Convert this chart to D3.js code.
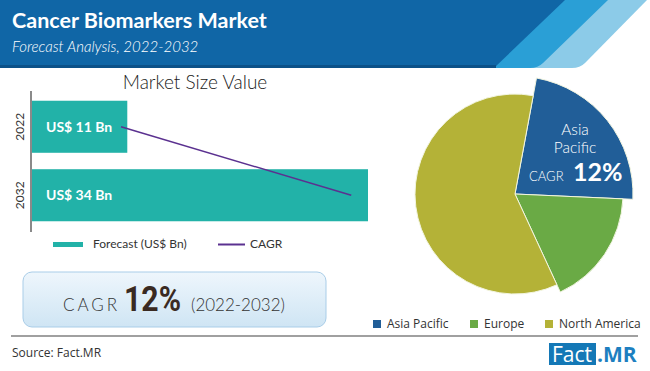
<!DOCTYPE html>
<html>
<head>
<meta charset="utf-8">
<script src="https://cdn.jsdelivr.net/npm/d3@7"></script>
<style>
  body { margin: 0; background: #fff; }
  svg { display: block; font-family: "Lato", "Open Sans", sans-serif; }
</style>
</head>
<body>
<div id="chart"></div>
<script>
// Data
const years = ['2022', '2032'];
const marketSize = [11, 34];
const barLabels = ['US$ 11 Bn', 'US$ 34 Bn'];
const cagrLine = [10.4, 32.4];
const regions = ['Asia Pacific', 'Europe', 'North America'];
const regionShare = [22.8, 17.4, 59.8];
const regionColors = ['#215e98', '#6aaa45', '#b4b237'];
const regionRadius = [118, 108, 100];

const W = 650, H = 371;
const svg = d3.select('#chart').append('svg')
    .attr('width', W)
    .attr('height', H);

// Header band with stripes
const header = svg.append('g');
header.append('path')
    .attr('d', 'M0,0 L647,0 L585,63 Q580,68 572,68 L0,68 Z')
    .attr('fill', '#8ccbe8');
header.append('path')
    .attr('d', 'M0,0 L608,0 L543,63 Q538,68 530,68 L0,68 Z')
    .attr('fill', '#2a9fd6');
header.append('path')
    .attr('d', 'M0,0 L565,0 L494,68 L0,68 Z')
    .attr('fill', '#1066a6');
header.append('rect')
    .attr('x', 0).attr('y', 65).attr('width', 496).attr('height', 3)
    .attr('fill', '#0c5188');

header.append('text')
    .attr('x', 12).attr('y', 28)
    .attr('fill', '#fff')
    .attr('font-size', 21.5)
    .attr('font-weight', 'bold')
    .text('Cancer Biomarkers Market');
header.append('text')
    .attr('x', 12).attr('y', 52)
    .attr('fill', '#fff')
    .attr('font-size', 15)
    .attr('font-style', 'italic')
    .attr('font-weight', 300)
    .text('Forecast Analysis, 2022-2032');

// Bar chart
const xScale = d3.scaleLinear()
    .domain([1.8, 34])
    .range([31, 368]);

const yScale = d3.scaleBand()
    .domain(years)
    .range([93, 229])
    .paddingInner(0.24)
    .paddingOuter(0.113);

svg.append('text')
    .attr('x', 195).attr('y', 89)
    .attr('text-anchor', 'middle')
    .attr('font-size', 19)
    .attr('font-weight', 300)
    .attr('fill', '#222')
    .text('Market Size Value');

svg.selectAll('.bar')
    .data(marketSize)
    .enter()
    .append('rect')
    .attr('class', 'bar')
    .attr('x', xScale(1.8))
    .attr('y', (d, i) => yScale(years[i]))
    .attr('width', d => xScale(d) - xScale(1.8))
    .attr('height', yScale.bandwidth())
    .attr('fill', '#22b2a8');

svg.selectAll('.bar-label')
    .data(barLabels)
    .enter()
    .append('text')
    .attr('class', 'bar-label')
    .attr('x', 46)
    .attr('y', (d, i) => yScale(years[i]) + yScale.bandwidth() / 2 + 5)
    .attr('fill', '#fff')
    .attr('font-size', 14)
    .attr('font-weight', 'bold')
    .text(d => d);

// Y axis
svg.append('line')
    .attr('x1', 31).attr('x2', 31)
    .attr('y1', 91).attr('y2', 232)
    .attr('stroke', '#8a8a8a')
    .attr('stroke-width', 2);

svg.selectAll('.year-label')
    .data(years)
    .enter()
    .append('text')
    .attr('class', 'year-label')
    .attr('transform', d => `translate(24,${yScale(d) + yScale.bandwidth() / 2}) rotate(-90)`)
    .attr('text-anchor', 'middle')
    .attr('font-size', 12)
    .attr('fill', '#333')
    .text(d => d);

// CAGR line
const line = d3.line()
    .x(d => xScale(d))
    .y((d, i) => yScale(years[i]) + yScale.bandwidth() / 2);
svg.append('path')
    .datum(cagrLine)
    .attr('d', line)
    .attr('fill', 'none')
    .attr('stroke', '#5b3190')
    .attr('stroke-width', 1.5);

// Bar legend
svg.append('rect')
    .attr('x', 53).attr('y', 242).attr('width', 30).attr('height', 5)
    .attr('fill', '#22b2a8');
svg.append('text')
    .attr('x', 93).attr('y', 248)
    .attr('font-size', 12).attr('fill', '#333')
    .text('Forecast (US$ Bn)');
svg.append('line')
    .attr('x1', 218).attr('x2', 245).attr('y1', 244.5).attr('y2', 244.5)
    .attr('stroke', '#5b3190').attr('stroke-width', 2);
svg.append('text')
    .attr('x', 250).attr('y', 248)
    .attr('font-size', 12).attr('fill', '#333')
    .text('CAGR');

// CAGR box
const defs = svg.append('defs');
const grad = defs.append('linearGradient')
    .attr('id', 'boxGrad')
    .attr('x1', 0).attr('y1', 0).attr('x2', 0).attr('y2', 1);
grad.append('stop').attr('offset', '0%').attr('stop-color', '#eef6fc');
grad.append('stop').attr('offset', '100%').attr('stop-color', '#cfe5f4');

svg.append('rect')
    .attr('x', 23).attr('y', 272).attr('width', 303).attr('height', 55)
    .attr('rx', 9)
    .attr('fill', 'url(#boxGrad)')
    .attr('stroke', '#a9cde8')
    .attr('stroke-width', 1);

svg.append('text')
    .attr('x', 63).attr('y', 311)
    .attr('font-size', 17)
    .attr('letter-spacing', 3)
    .attr('font-weight', 300)
    .attr('fill', '#333')
    .text('CAGR');
svg.append('text')
    .attr('x', 124).attr('y', 311)
    .attr('font-size', 35)
    .attr('font-weight', 'bold')
    .attr('fill', '#3a2a22')
    .attr('font-family', 'Roboto, sans-serif')
    .attr('textLength', 57)
    .attr('lengthAdjust', 'spacingAndGlyphs')
    .text('12%');
svg.append('text')
    .attr('x', 191).attr('y', 311)
    .attr('font-size', 17)
    .attr('font-weight', 300)
    .attr('fill', '#333')
    .text('(2022-2032)');

// Pie chart
const cx = 515, cy = 194;
const pie = d3.pie()
    .sort(null)
    .startAngle(10.5 * Math.PI / 180)
    .endAngle(370.5 * Math.PI / 180);
const arcs = pie(regionShare);

const pieG = svg.append('g')
    .attr('transform', `translate(${cx},${cy})`);
pieG.selectAll('path')
    .data(arcs)
    .enter()
    .append('path')
    .attr('d', (d, i) => d3.arc().innerRadius(0).outerRadius(regionRadius[i])(d))
    .attr('fill', (d, i) => regionColors[i])
    .attr('stroke', '#f2f5e0')
    .attr('stroke-width', 1);

const apText = pieG.append('text')
    .attr('fill', '#fff')
    .attr('text-anchor', 'middle')
    .attr('font-weight', 300)
    .attr('font-size', 15.5);
apText.append('tspan').attr('x', 60).attr('y', -59).text('Asia');
apText.append('tspan').attr('x', 60).attr('y', -41).text('Pacific');
pieG.append('text')
    .attr('x', 14).attr('y', -13)
    .attr('fill', '#fff')
    .attr('font-size', 13)
    .attr('font-weight', 300)
    .text('CAGR');
pieG.append('text')
    .attr('x', 58).attr('y', -13)
    .attr('fill', '#fff')
    .attr('font-size', 25)
    .attr('font-weight', 'bold')
    .text('12%');

// Pie legend
const legendX = [373, 470, 545];
const legend = svg.append('g');
regions.forEach((r, i) => {
    legend.append('rect')
        .attr('x', legendX[i]).attr('y', 320)
        .attr('width', 8).attr('height', 8)
        .attr('fill', regionColors[i]);
    legend.append('text')
        .attr('x', legendX[i] + 14).attr('y', 328)
        .attr('font-size', 12).attr('fill', '#333')
        .attr('font-family', '"Open Sans", sans-serif')
        .text(r);
});

// Footer
svg.append('line')
    .attr('x1', 11).attr('x2', 638).attr('y1', 336).attr('y2', 336)
    .attr('stroke', '#a0a0a0').attr('stroke-width', 2);
svg.append('text')
    .attr('x', 12).attr('y', 357)
    .attr('font-size', 12).attr('fill', '#333')
    .attr('font-family', '"Open Sans", sans-serif')
    .text('Source: Fact.MR');

svg.append('rect')
    .attr('x', 549).attr('y', 343).attr('width', 47).attr('height', 22)
    .attr('fill', '#1478b6');
svg.append('text')
    .attr('x', 572).attr('y', 362)
    .attr('text-anchor', 'middle')
    .attr('font-size', 21).attr('fill', '#fff')
    .attr('font-family', '"Open Sans", sans-serif')
    .text('Fact');
svg.append('text')
    .attr('x', 597).attr('y', 362)
    .attr('font-size', 21).attr('fill', '#1d7fc0')
    .attr('font-weight', 'bold')
    .attr('font-family', '"Open Sans", sans-serif')
    .text('.MR');
</script>
</body>
</html>
